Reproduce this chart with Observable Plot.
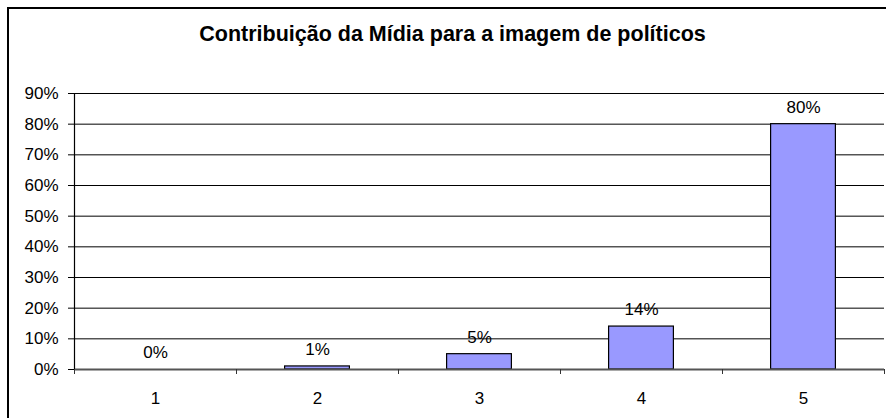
<!DOCTYPE html>
<html>
<head>
<meta charset="utf-8">
<script src="https://cdn.jsdelivr.net/npm/d3@7"></script>
<script src="https://cdn.jsdelivr.net/npm/@observablehq/plot@0.6"></script>
<style>
  html, body { margin: 0; padding: 0; background: #fff; }
  #wrap { position: relative; width: 886px; height: 418px; overflow: hidden; font-family: "Liberation Sans", Arial, sans-serif; }
  #border { position: absolute; left: 7px; top: 7px; width: 900px; height: 430px; border-left: 2px solid #000; border-top: 2px solid #000; box-sizing: border-box; }
  #title { position: absolute; left: 0; top: 0; width: 905px; text-align: center; font-weight: bold; font-size: 21.5px; line-height: 1; padding-top: 24px; color: #000; }
  #plot { position: absolute; left: 0; top: 0; }
</style>
</head>
<body>
<div id="wrap">
  <div id="border"></div>
  <div id="title">Contribuição da Mídia para a imagem de políticos</div>
  <div id="plot"></div>
</div>
<script>
const categories = [1, 2, 3, 4, 5];
const values = [0.00, 0.01, 0.05, 0.14, 0.80];
const labels = ["0%", "1%", "5%", "14%", "80%"];
const yTicks = [0, 0.1, 0.2, 0.3, 0.4, 0.5, 0.6, 0.7, 0.8, 0.9];
const boundaries = [0.5, 1.5, 2.5, 3.5, 4.5, 5.5];
const halfBar = 0.2;

const data = categories.map((c, i) => ({cat: c, value: values[i], label: labels[i]}));

const chart = Plot.plot({
  width: 886,
  height: 418,
  marginTop: 93,
  marginBottom: 49,
  marginLeft: 74,
  marginRight: 2,
  style: {fontFamily: "'Liberation Sans', Arial, sans-serif", fontSize: "17px", color: "#000", background: "transparent"},
  x: {domain: [0.5, 5.5], axis: null},
  y: {domain: [0, 0.9], axis: null},
  marks: [
    Plot.ruleY(yTicks.filter(t => t > 0), {stroke: "#000", strokeWidth: 1}),
    Plot.rectY(data, {x1: d => d.cat - halfBar, x2: d => d.cat + halfBar, y1: 0, y2: "value", fill: "#9999FF", stroke: "#000", strokeWidth: 1.2}),
    Plot.ruleY([0], {stroke: "#555", strokeWidth: 2}),
    Plot.ruleX([0.5], {y1: 0, y2: 0.9, stroke: "#000", strokeWidth: 1.2}),
    Plot.axisY({ticks: yTicks, tickFormat: d3.format(".0%"), tickSize: 6, tickPadding: 10, fontSize: 17, label: null}),
    Plot.axisX({ticks: boundaries, tickFormat: () => "", tickSize: 5, stroke: "#333", label: null}),
    Plot.axisX({ticks: categories, tickFormat: d => String(d), tickSize: 0, tickPadding: 22, fontSize: 17, label: null}),
    Plot.text(data, {x: "cat", y: "value", text: "label", dy: -17, fontSize: 17, fill: "#000"})
  ]
});
document.getElementById("plot").appendChild(chart);
</script>
</body>
</html>
